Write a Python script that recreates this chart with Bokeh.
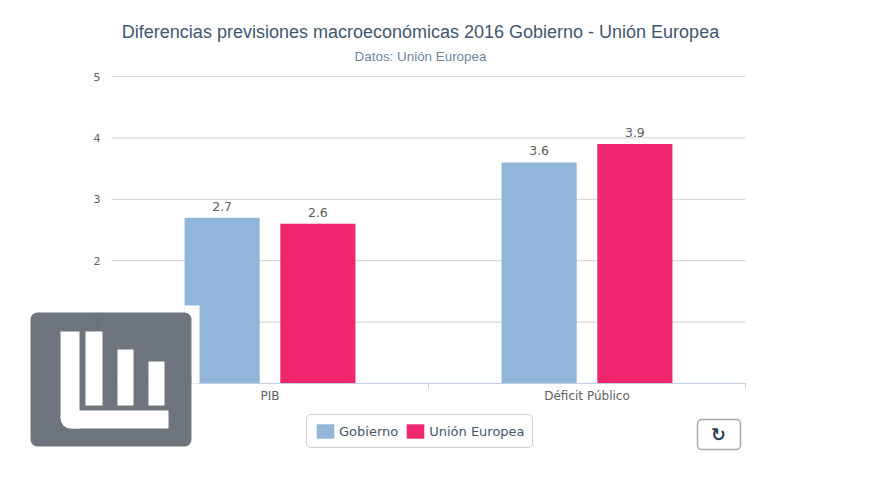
from bokeh.plotting import figure
from bokeh.models import (ColumnDataSource, Range1d, LinearAxis, FixedTicker, Legend, LegendItem,
                          BoxAnnotation, Label)
from bokeh.transform import dodge
from bokeh.core.properties import value
from bokeh.embed import file_html
from bokeh.resources import INLINE

categories = ["PIB", "Déficit Público"]
gobierno = [2.7, 3.6]
union_europea = [2.6, 3.9]
y_ticks = [0, 1, 2, 3, 4, 5]
title_text = "Diferencias previsiones macroeconómicas 2016 Gobierno - Unión Europea"
subtitle_text = "Datos: Unión Europea"

W, H = 864, 479
X0, X1, Y0, Y5 = 111, 745, 383, 76  # pixel box of the plot area
PX = (X1 - X0) / len(categories)
PY = (Y0 - Y5) / 5

centres = [i + 0.5 for i in range(len(categories))]
src = ColumnDataSource(dict(
    pos=centres, gob=gobierno, ue=union_europea,
    gob_t=[f"{v:.1f}" for v in gobierno], ue_t=[f"{v:.1f}" for v in union_europea],
))

p = figure(width=W, height=H, output_backend="svg", toolbar_location=None,
           x_range=Range1d(-X0 / PX, (W - X0) / PX), y_range=Range1d((Y0 - H) / PY, Y0 / PY),
           x_axis_type=None, min_border=0)
p.outline_line_color = None
p.background_fill_color = "white"
p.border_fill_color = "white"
p.grid.visible = False

p.segment(x0=[0] * 5, x1=[len(categories)] * 5, y0=y_ticks[1:], y1=y_ticks[1:],
          line_color="#d9d9d9", line_width=1.2)

ya = p.yaxis[0]
ya.fixed_location = 0
ya.bounds = (0, 5)
ya.ticker = FixedTicker(ticks=y_ticks)
ya.axis_line_color = None
ya.major_tick_line_color = None
ya.minor_tick_line_color = None
ya.major_label_text_font = "DejaVu Sans"
ya.major_label_text_font_size = "11px"
ya.major_label_text_color = "#606060"
ya.major_label_standoff = 5

xa = LinearAxis(ticker=FixedTicker(ticks=centres, minor_ticks=list(range(len(categories) + 1))),
                major_label_overrides=dict(zip(centres, categories)))
xa.fixed_location = 0
xa.bounds = (0, len(categories))
xa.axis_line_color = "#c0d0e0"
xa.axis_line_width = 1.2
xa.major_tick_line_color = None
xa.minor_tick_line_color = "#c0d0e0"
xa.minor_tick_out = 5
xa.minor_tick_in = 0
xa.major_label_text_font = "DejaVu Sans"
xa.major_label_text_font_size = "12px"
xa.major_label_text_color = "#606060"
xa.major_label_standoff = -1
p.add_layout(xa, "below")

r1 = p.vbar(x=dodge("pos", -0.151), top="gob", bottom=0, width=0.237, source=src,
            fill_color="#92b5da", line_color=None)
r2 = p.vbar(x=dodge("pos", 0.151), top="ue", bottom=0, width=0.237, source=src,
            fill_color="#f0266e", line_color=None)

for xo, yc, tc in ((-0.151, "gob", "gob_t"), (0.151, "ue", "ue_t")):
    p.text(x=dodge("pos", xo), y=yc, text=tc, source=src, y_offset=-7,
           text_align="center", text_baseline="bottom", text_font=value("DejaVu Sans"),
           text_font_size="12.5px", text_color="#606060")

legend = Legend(items=[LegendItem(label="Gobierno", renderers=[r1]),
                       LegendItem(label="Unión Europea", renderers=[r2])],
                orientation="horizontal", location=(306, H - 448),
                border_line_color="#a0a0a0", border_line_width=1.5,
                background_fill_color="white", background_fill_alpha=1,
                label_text_font="DejaVu Sans", label_text_font_size="13px", label_text_color="#44566a",
                glyph_width=22, glyph_height=18, label_standoff=3, spacing=6,
                padding=7, margin=0)
if hasattr(legend, "border_radius"):
    legend.border_radius = 5
p.add_layout(legend, "center")


def box(l, t, r, b, **kw):
    a = BoxAnnotation(left=l, right=r, top=t, bottom=b,
                      left_units="canvas", right_units="canvas", top_units="canvas", bottom_units="canvas",
                      editable=False, **kw)
    a.level = "overlay"
    p.add_layout(a)
    return a


# white halo then the watermark icon
box(184, 305, 199, 383, fill_color="white", fill_alpha=1, line_color=None)
box(30, 312, 191, 446, fill_color="#636a73", fill_alpha=0.93, line_color=None, border_radius=7)
box(60, 331, 79, 428, fill_color="white", fill_alpha=1, line_color=None, border_radius=(0, 0, 0, 10))
for l, t, r, b in ((70, 410, 168, 428), (85, 331, 102, 405), (117, 349, 133, 405), (148, 361, 164, 405)):
    box(l, t, r, b, fill_color="white", fill_alpha=1, line_color=None)

# reload button
box(697, 419, 740, 449, fill_color="white", fill_alpha=1, line_color="#a8a8a8", line_alpha=1, line_width=1.5, border_radius=4)

p.add_layout(Label(x=420, y=31, x_units="canvas", y_units="canvas", text=title_text,
                   text_font="Liberation Sans", text_font_size="18px", text_color="#3e576f",
                   text_align="center", text_baseline="middle"))
p.add_layout(Label(x=420, y=56, x_units="canvas", y_units="canvas", text=subtitle_text,
                   text_font="Liberation Sans", text_font_size="13.4px", text_color="#6d869f",
                   text_align="center", text_baseline="middle"))
icon = Label(x=718, y=434, x_units="canvas", y_units="canvas", text="↻",
             text_font="DejaVu Sans", text_font_size="18px", text_font_style="bold", text_color="#2f3f4f",
             text_align="center", text_baseline="middle")
icon.level = "overlay"
p.add_layout(icon)

open("out.html", "w").write(file_html(p, INLINE))
